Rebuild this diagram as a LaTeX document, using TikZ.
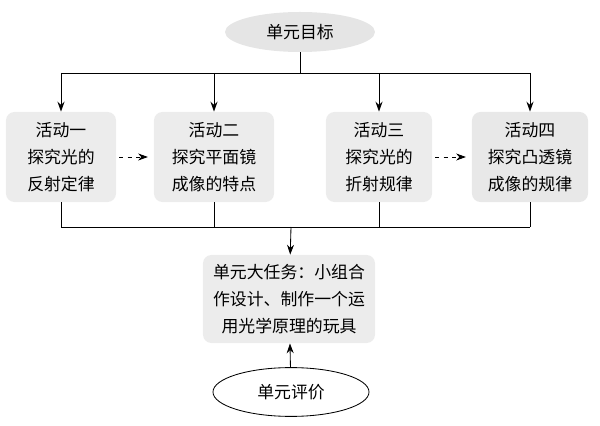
\documentclass[tikz,border=0pt]{standalone}
\usepackage{fontspec}
\setmainfont{Noto Sans CJK SC}
\usetikzlibrary{positioning,arrows.meta,shapes.geometric}

\tikzset{
  act/.style={fill=gray!15, rounded corners=6pt, minimum width=2.8cm,
    minimum height=2.25cm, align=center, inner sep=2pt},
  goalshape/.style={ellipse, fill=gray!20, minimum width=3.75cm, minimum height=1cm},
  evalshape/.style={ellipse, draw, fill=white, minimum width=3.9cm, minimum height=1.22cm}
}

\begin{document}
\begin{tikzpicture}[x=0.025cm, y=-0.025cm,
    semithick,
    >={Stealth[length=7pt,width=5pt]},
    font=\fontsize{12}{19}\selectfont]
    \useasboundingbox (0,0) rectangle (600,426);
    \node[goalshape] (goal) at (300,32) {单元目标};
    \node[act, minimum width=2.75cm] (a1) at (61,157) {活动一\\探究光的\\反射定律};
    \node[act, minimum width=3cm] (a2) at (214,157) {活动二\\探究平面镜\\成像的特点};
    \node[act, minimum width=2.65cm] (a3) at (379,157) {活动三\\探究光的\\折射规律};
    \node[act, minimum width=2.9cm, fill=gray!18] (a4) at (530,157) {活动四\\探究凸透镜\\成像的规律};
    \node[act, minimum width=4.3cm, minimum height=2.2cm] (task) at (289,299)
        {单元大任务：小组合\\作设计、制作一个运\\用光学原理的玩具};
    \node[evalshape] (eval) at (291,392) {单元评价};
    \coordinate (tl) at (61,73);
    \coordinate (tr) at (530,73);
    \coordinate (bl) at (61,227);
    \coordinate (br) at (530,227);
    % top and bottom bars
    \draw (goal.south) -- (goal.south |- tl);
    \draw (tl) -- (tr);
    \draw (bl) -- (br);
    \foreach \n in {a1,a2,a3,a4} {
        \draw[->] (\n.north |- tl) -- (\n);
        \draw (\n) -- (\n.south |- bl);
    }
    \draw[->, dashed, shorten <=2pt, shorten >=4pt] (a1) -- (a2);
    \draw[->, dashed, shorten <=2pt, shorten >=4pt] (a3) -- (a4);
    \draw[->] (eval.north |- bl) -- (task);
    \draw[->] (eval) -- (task);
\end{tikzpicture}
\end{document}
